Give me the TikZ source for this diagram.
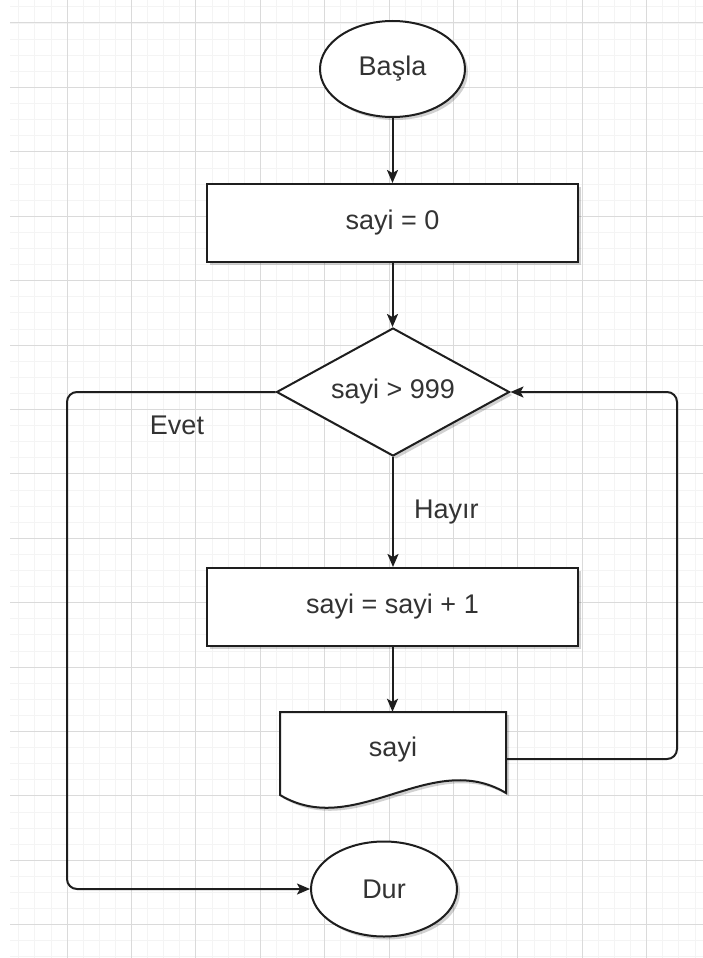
\documentclass[tikz,border=0pt]{standalone}
\usepackage{fontspec}
\setmainfont{Liberation Sans}
\usetikzlibrary{shapes.geometric,arrows.meta,shadows,calc}
\definecolor{ln}{HTML}{1E1E1E}
\definecolor{tx}{HTML}{333333}
\definecolor{gmaj}{HTML}{DADADA}
\definecolor{gmin}{HTML}{F4F4F4}
\begin{document}
\begin{tikzpicture}[x=1pt,y=-1pt,
  font=\fontsize{27}{32}\selectfont,
  shad/.style={drop shadow={shadow xshift=3pt,shadow yshift=-3pt,opacity=0.18,fill=black}},
  shapebase/.style={draw=ln,line width=2pt,fill=white,text=tx,inner sep=0pt,shad},
  procbox/.style={shapebase,rectangle,minimum width=371pt,minimum height=78pt},
  termin/.style={shapebase,ellipse,minimum width=145pt,minimum height=96pt},
  decide/.style={shapebase,diamond,aspect=1.82,minimum width=233pt,minimum height=128pt},
  doctext/.style={text=tx,inner sep=0pt,minimum width=226pt,minimum height=94pt},
  lbl/.style={text=tx,inner sep=0pt},
  flow/.style={draw=ln,line width=2pt,-{Stealth[length=13pt,width=11pt,inset=3pt]}},
  gridmin/.style={draw=gmin,line width=0.8pt},
  gridmaj/.style={draw=gmaj,line width=1pt}]
\useasboundingbox (0,0) rectangle (703,958);
\fill[white] (0,0) rectangle (703,958);
% grid
\foreach \k in {1,...,43} {\draw[gridmin] ({2.6+16.1*\k},0) -- ({2.6+16.1*\k},958);}
\foreach \k in {-1,...,58} {\draw[gridmin] (10,{23+16.1*\k}) -- (703,{23+16.1*\k});}
\foreach \k in {1,...,10} {\draw[gridmaj] ({2.6+64.4*\k},0) -- ({2.6+64.4*\k},958);}
\foreach \k in {0,...,14} {\draw[gridmaj] (10,{23+64.4*\k}) -- (703,{23+64.4*\k});}

% document shape outline
\draw[draw=ln,line width=2pt,fill=white,shad]
  (280,712) -- (506,712) -- (506,793)
  .. controls (431,748) and (355,840) .. (280,795) -- cycle;

% nodes
\node[termin] (start) at (392.5,69) {Başla};
\node[procbox] (init) at (392.5,223) {sayi = 0};
\node[decide] (cond) at (393,392) {sayi > 999};
\node[procbox] (inc) at (392.5,607) {sayi = sayi + 1};
\node[doctext] (doc) at (393,759) {\raisebox{24pt}{sayi}};
\node[termin,minimum width=146pt,minimum height=95pt] (stop) at (384,889) {Dur};

\coordinate (rx) at (677,0);
\coordinate (lx) at (67,0);

% connectors
\draw[flow] (start.south) -- (start.south |- init.north);
\draw[flow] (init.south) -- (init.south |- cond.north);
\draw[flow] (cond.south) -- (cond.south |- inc.north)
  node[lbl,pos=0.5,right=20pt] (hayir) {Hayır};
\draw[flow] (inc.south) -- (inc.south |- doc.north);
\draw[flow,rounded corners=10pt] (doc.east) -- (doc.east -| rx) -- (cond.east -| rx) -- (cond.east);
\draw[flow,rounded corners=10pt] (cond.west) -- (cond.west -| lx) -- (stop.west -| lx) -- (stop.west);
\node[lbl] (evet) at (177,425) {Evet};
\end{tikzpicture}
\end{document}
